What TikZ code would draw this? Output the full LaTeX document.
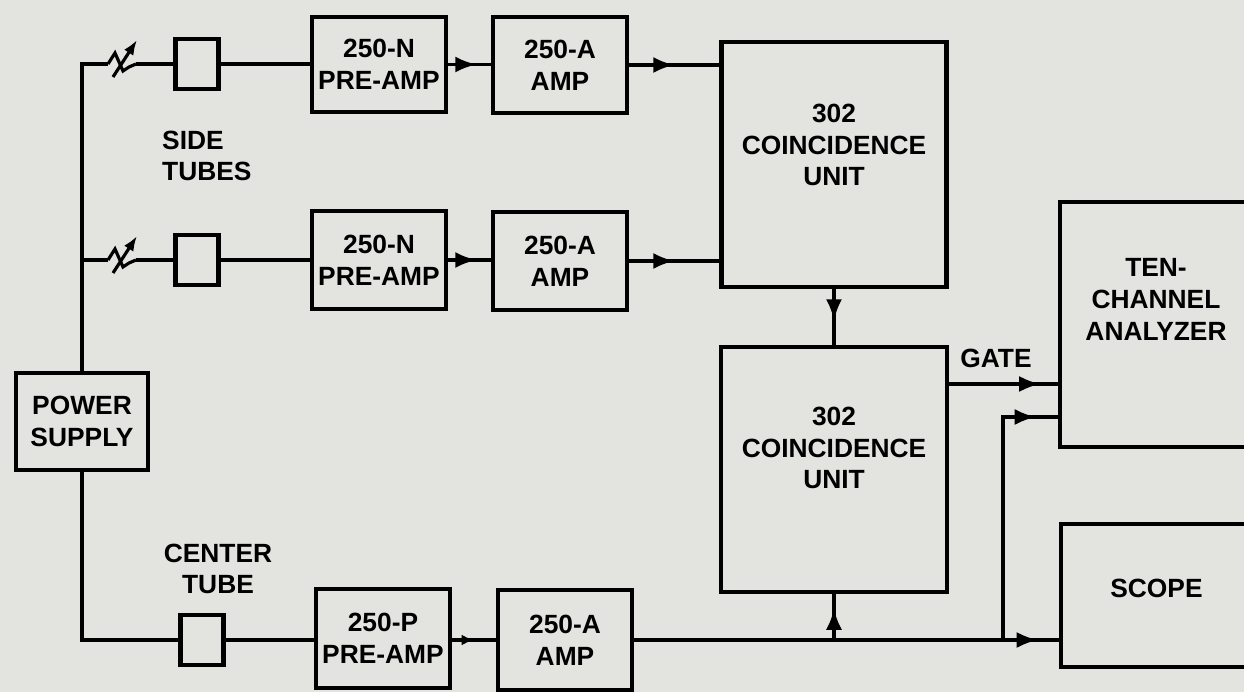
\documentclass[tikz,border=0pt]{standalone}
\usepackage{fontspec}
\setmainfont{Liberation Sans}
\usetikzlibrary{arrows.meta,decorations.markings,positioning}

\definecolor{paper}{RGB}{227,227,224}
\newcommand{\lettering}{\fontsize{15}{18}\selectfont\bfseries}

\tikzset{
  blk/.style={draw, line width=2.4pt, fill=paper, align=center, inner sep=0pt, font=\lettering},
  tube/.style={draw, line width=2.4pt, fill=paper, minimum width=0.86cm, minimum height=1cm, inner sep=0pt},
  wire/.style={line width=1.8pt},
  lbl/.style={align=center, font=\lettering},
  marr/.style={postaction={decorate}, decoration={markings,
      mark=at position #1 with {\arrow{Latex[length=0.42cm,width=0.32cm]}}}},
  dotarr/.style={postaction={decorate}, decoration={markings,
      mark=at position #1 with {\arrow{Latex[length=0.25cm,width=0.22cm]}}}},
}

\begin{document}
\begin{tikzpicture}[x=0.02cm, y=-0.02cm]
            \fill[paper] (0,0) rectangle (1244,692);
            \clip (0,0) rectangle (1244,692);

            % power supply and tubes
            \node[blk, minimum width=2.64cm, minimum height=1.94cm] (ps) at (82,421.5) {POWER\\SUPPLY};
            \node[tube] (t1) at (197,64) {};
            \node[tube] (t2) at (197,260) {};
            \node[tube] (t3) at (202,640) {};

            % amplifiers
            \node[blk, minimum width=2.68cm, minimum height=1.9cm] (pn1) at (379,64.5) {250-N\\PRE-AMP};
            \node[blk, minimum width=2.68cm, minimum height=1.92cm] (pa1) at (560,65) {250-A\\AMP};
            \node[blk, minimum width=2.68cm, minimum height=1.96cm] (pn2) at (379,260) {250-N\\PRE-AMP};
            \node[blk, minimum width=2.68cm, minimum height=1.96cm] (pa2) at (560,261) {250-A\\AMP};
            \node[blk, minimum width=2.68cm, minimum height=1.98cm] (pp) at (383,638.5) {250-P\\PRE-AMP};
            \node[blk, minimum width=2.68cm, minimum height=2cm] (pa3) at (565,640) {250-A\\AMP};

            % coincidence units, analyzer, scope
            \node[blk, minimum width=4.5cm, minimum height=4.9cm,
                  label={[lbl,yshift=0.39cm]center:{302\\COINCIDENCE\\UNIT}}] (cu1) at (834,164.5) {};
            \node[blk, minimum width=4.52cm, minimum height=4.9cm,
                  label={[lbl,yshift=0.43cm]center:{302\\COINCIDENCE\\UNIT}}] (cu2) at (834,469.5) {};
            \node[blk, minimum width=3.84cm, minimum height=4.9cm,
                  label={[lbl,yshift=0.5cm]center:{TEN-\\CHANNEL\\ANALYZER}}] (an) at (1156,324.5) {};
            \node[blk, minimum width=3.82cm, minimum height=2.86cm,
                  label={[lbl,yshift=0.15cm]center:{SCOPE}}] (sc) at (1156.5,595.5) {};

            \node[lbl, align=left, anchor=west] (st) at (156,156) {SIDE\\TUBES};
            \node[lbl] (ct) at (218,569) {CENTER\\TUBE};
            \node[lbl] (gt) at (996,358) {GATE};

            % variable attenuators on the side tube lines
            \foreach \yy/\nm in {64/1,260/2}{
                \coordinate (z\nm w) at (108,\yy);
                \coordinate (z\nm e) at (136,\yy);
                \draw[wire] (z\nm w) -- ++(7,-11) -- ++(8,18) -- ++(6,-4) -- (z\nm e);
                \draw[wire, -{Latex[length=0.3cm,width=0.22cm]}] (113,\yy+13) -- (137,\yy-24);
            }

            \draw[wire] (ps.north) |- (z1w);
            \draw[wire] (ps.north |- z2w) -- (z2w);
            \draw[wire] (ps.south) |- (t3.west);
            \draw[wire] (z1e) -- (t1.west);
            \draw[wire] (z2e) -- (t2.west);
            \draw[wire] (t1.east) -- (pn1.west |- t1.east);
            \draw[wire] (t2.east) -- (pn2.west |- t2.east);
            \draw[wire] (t3.east) -- (pp.west |- t3.east);

            \draw[wire, marr=0.66] (pn1.east) -- (pa1.west |- pn1.east);
            \draw[wire, marr=0.66] (pn2.east) -- (pa2.west |- pn2.east);
            \draw[wire, dotarr=0.5] (pp.east |- pa3.west) -- (pa3.west);
            \draw[wire, marr=0.5] (pa1.east) -- (pa1.east -| cu1.west);
            \draw[wire, marr=0.5] (pa2.east) -- (pa2.east -| cu1.west);
            \draw[wire, marr=0.56] (cu1.south) -- (cu2.north);

            % outputs
            \coordinate (g) at (947,384);
            \coordinate (j) at (1003,640);
            \coordinate (k) at (1003,417);
            \draw[wire, marr=0.84] (g) -- (g -| an.west);
            \draw[wire, marr=0.95] (pa3.east) -- (pa3.east -| sc.west);
            \draw[wire, marr=0.68] (cu2.south |- pa3.east) -- (cu2.south);
            \draw[wire, marr=0.92] (j) |- (k -| an.west);
        \end{tikzpicture}
\end{document}
